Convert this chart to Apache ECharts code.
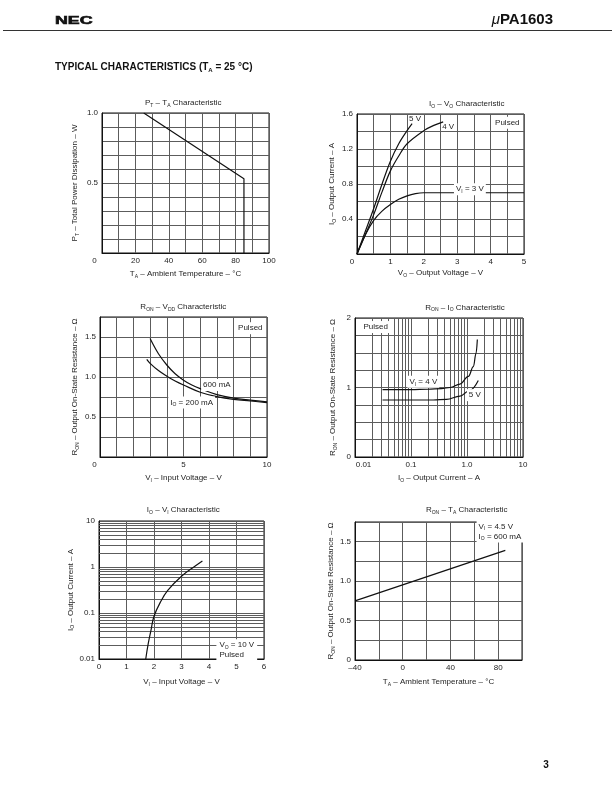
<!DOCTYPE html>
<html><head><meta charset="utf-8">
<script src="https://cdn.jsdelivr.net/npm/echarts@6/dist/echarts.min.js"></script>
<style>html,body{margin:0;padding:0;background:#fff}#c{width:612px;height:792px}</style>
</head><body><div id="c"></div><script>
// ---------------- DATA ----------------
// Chart 1: PT - TA
const c1TempC = [25, 85, 85];
const c1PowerW = [1.0, 0.53, 0];
const c1XTicks = [0, 20, 40, 60, 80, 100];
const c1YTicks = [0.5, 1.0];
// Chart 2: IO - VO
const c2Vo5 = [0, 0.25, 0.5, 0.75, 1.0, 1.25, 1.5, 1.65];
const c2Io5 = [0, 0.26, 0.52, 0.8, 1.06, 1.26, 1.41, 1.49];
const c2Vo4 = [0, 0.25, 0.5, 0.75, 1.0, 1.25, 1.5, 2.0, 2.3, 2.58];
const c2Io4 = [0, 0.22, 0.45, 0.71, 0.95, 1.12, 1.26, 1.41, 1.47, 1.51];
const c2Vo3 = [0, 0.25, 0.5, 0.75, 1.0, 1.25, 1.5, 1.75, 2.0, 2.5, 3, 4, 5];
const c2Io3 = [0, 0.22, 0.385, 0.49, 0.565, 0.625, 0.665, 0.69, 0.70, 0.70, 0.70, 0.70, 0.70];
const c2XTicks = [0, 1, 2, 3, 4, 5];
const c2YTicks = [0.4, 0.8, 1.2, 1.6];
// Chart 3: RON - VDD
const c3Vi600 = [3.0, 3.5, 4, 4.5, 5, 5.5, 6, 7, 8, 9, 10];
const c3Ron600 = [1.48, 1.29, 1.15, 1.04, 0.96, 0.9, 0.855, 0.78, 0.735, 0.71, 0.69];
const c3Vi200 = [2.8, 3.0, 3.5, 4, 4.5, 5, 6, 7, 8, 9, 10];
const c3Ron200 = [1.22, 1.17, 1.08, 1.01, 0.95, 0.9, 0.81, 0.755, 0.72, 0.70, 0.68];
const c3XTicks = [0, 5, 10];
const c3YTicks = [0.5, 1.0, 1.5];
// Chart 4: RON - IO (log x)
const c4Io4 = [0.031, 0.1, 0.2, 0.35, 0.5, 0.75, 1.06, 1.3, 1.45, 1.53];
const c4Ron4 = [0.97, 0.97, 0.975, 0.985, 1.0, 1.05, 1.16, 1.3, 1.49, 1.69];
const c4Io5 = [0.031, 0.1, 0.25, 0.43, 0.75, 1.13, 1.59];
const c4Ron5 = [0.82, 0.82, 0.82, 0.83, 0.877, 0.96, 1.10];
const c4XTicks = [0.01, 0.1, 1, 10];
const c4XTickText = ['0.01', '0.1', '1.0', '10'];
const c4YTicks = [0, 1, 2];
// Chart 5: IO - VI (log y)
const c5Vi = [1.70, 1.79, 1.89, 2.0, 2.25, 2.5, 3.0, 3.5, 3.76];
const c5Io = [0.01, 0.0215, 0.042, 0.085, 0.18, 0.31, 0.63, 1.05, 1.35];
const c5XTicks = [0, 1, 2, 3, 4, 5, 6];
const c5YTicks = [0.01, 0.1, 1, 10];
const c5YTickText = ['0.01', '0.1', '1', '10'];
// Chart 6: RON - TA
const c6TempC = [-40, 86];
const c6Ron = [0.75, 1.39];
const c6XTicks = [-40, 0, 40, 80];
const c6YTicks = [0, 0.5, 1.0, 1.5];
// log-paper minor grid values
const logMinor = [0.02,0.03,0.04,0.05,0.06,0.07,0.08,0.09,0.2,0.3,0.4,0.5,0.6,0.7,0.8,0.9,2,3,4,5,6,7,8,9];

// ---------------- STYLE ----------------
const FONT = '"Liberation Sans", Arial, sans-serif';
const TXT = '#1e1e1e';
const GRIDC = '#5c5c5c';
const LINEC = '#111';
const RICH = {
  n: {fontFamily: FONT, fontSize: 8, color: TXT, lineHeight: 10},
  s: {fontFamily: FONT, fontSize: 5, color: TXT, lineHeight: 6, verticalAlign: 'bottom'},
};
const n = t => `{n|${t}}`;
const sb = (a, b) => `{n|${a}}{s|${b}}`;
const zip = (a, b) => a.map((v, i) => [v, b[i]]);

function pick(list, fmt, isLog) {
  return v => {
    const i = list.findIndex(t => isLog ? Math.abs(Math.log10(t) - Math.log10(v)) < 1e-6 : Math.abs(t - v) < 1e-6);
    return i < 0 ? '' : fmt(list[i], i);
  };
}

function axis(o) {
  const rich = Object.assign({}, RICH, o.rich || {});
  return {
    gridIndex: o.g, type: o.type || 'value', min: o.min, max: o.max, interval: o.interval,
    logBase: o.type === 'log' ? 10 : undefined,
    axisLine: {show: true, onZero: false, lineStyle: {color: '#111', width: 1}},
    axisTick: {show: false},
    splitLine: {show: true, lineStyle: {color: GRIDC, width: 1}},
    minorTick: {show: false}, minorSplitLine: {show: false},
    axisLabel: {fontFamily: FONT, fontSize: 8, color: TXT, margin: o.margin || 4, formatter: o.fmt, rich: rich, showMinLabel: true, showMaxLabel: true},
    name: o.name, nameLocation: 'middle', nameGap: o.gap,
    nameTextStyle: {fontFamily: FONT, fontSize: 8, color: TXT, rich: RICH}
  };
}

const grids = [
  {left: 102, top: 113, width: 167, height: 140},
  {left: 357, top: 114, width: 167, height: 140},
  {left: 100, top: 317, width: 167, height: 140},
  {left: 355, top: 318, width: 168, height: 139},
  {left: 99, top: 521, width: 165, height: 138},
  {left: 355, top: 522, width: 167, height: 138},
].map(g => Object.assign(g, {show: true, borderColor: '#111', borderWidth: 1, containLabel: false}));

const RON_NAME = sb('R', 'ON') + n(' – Output On-State Resistance – Ω');
const IO_NAME = sb('I', 'O') + n(' – Output Current – A');

const xAxes = [
  axis({g: 0, min: 0, max: 100, interval: 10, gap: 16, margin: 4,
        fmt: pick(c1XTicks, t => t === 0 ? '{z|0}' : String(t)), rich: {z: {padding: [0, 15, 0, 0]}},
        name: sb('T', 'A') + n(' – Ambient Temperature – °C')}),
  axis({g: 1, min: 0, max: 5, interval: 0.5, gap: 14, margin: 4,
        fmt: pick(c2XTicks, t => t === 0 ? '{z|0}' : String(t)), rich: {z: {padding: [0, 10, 0, 0]}},
        name: sb('V', 'O') + n(' – Output Voltage – V')}),
  axis({g: 2, min: 0, max: 10, interval: 1, gap: 16, margin: 4,
        fmt: pick(c3XTicks, t => t === 0 ? '{z|0}' : String(t)), rich: {z: {padding: [0, 11, 0, 0]}},
        name: sb('V', 'I') + n(' – Input Voltage – V')}),
  axis({g: 3, type: 'log', min: 0.01, max: 10, gap: 16, margin: 4,
        fmt: pick(c4XTicks, (t, i) => i === 0 ? '{r|' + c4XTickText[i] + '}' : c4XTickText[i], true), rich: {r: {padding: [0, 0, 0, 17]}},
        name: IO_NAME}),
  axis({g: 4, min: 0, max: 6, interval: 1, gap: 18, margin: 4,
        fmt: pick(c5XTicks, t => String(t)),
        name: sb('V', 'I') + n(' – Input Voltage – V')}),
  axis({g: 5, min: -40, max: 100, interval: 20, gap: 17, margin: 4,
        fmt: pick(c6XTicks, t => t < 0 ? '–' + Math.abs(t) : String(t)),
        name: sb('T', 'A') + n(' – Ambient Temperature – °C')}),
];
const yAxes = [
  axis({g: 0, min: 0, max: 1, interval: 0.1, gap: 22, fmt: pick(c1YTicks, t => t.toFixed(1)),
        name: sb('P', 'T') + n(' – Total Power Dissipation – W')}),
  axis({g: 1, min: 0, max: 1.6, interval: 0.2, gap: 20, fmt: pick(c2YTicks, t => t.toFixed(1)), name: IO_NAME}),
  axis({g: 2, min: 0, max: 1.75, interval: 0.25, gap: 20, fmt: pick(c3YTicks, t => t.toFixed(1)), name: RON_NAME}),
  axis({g: 3, min: 0, max: 2, interval: 0.25, gap: 17, fmt: pick(c4YTicks, t => String(t)), name: RON_NAME}),
  axis({g: 4, type: 'log', min: 0.01, max: 10, gap: 21, fmt: pick(c5YTicks, (t, i) => c5YTickText[i], true), name: IO_NAME}),
  axis({g: 5, min: 0, max: 1.75, interval: 0.25, gap: 17, fmt: pick(c6YTicks, t => t === 0 ? '0' : t.toFixed(1)), name: RON_NAME}),
];

function curve(idx, data, extra) {
  return Object.assign({
    type: 'line', xAxisIndex: idx, yAxisIndex: idx, data: data,
    showSymbol: false, symbol: 'none', animation: false, silent: true, z: 3,
    lineStyle: {color: LINEC, width: 1.2}
  }, extra || {});
}
const noteLabel = (txt, extra) => Object.assign({
  show: true, formatter: txt, position: 'inside', backgroundColor: '#fff', padding: [1, 2],
  fontFamily: FONT, fontSize: 8, color: TXT, rich: RICH
}, extra || {});
function notes(list) {
  return {
    symbol: 'rect', symbolSize: 1, itemStyle: {color: 'rgba(0,0,0,0)'}, silent: true, animation: false, z: 10,
    data: list.map(o => ({coord: o.c, label: noteLabel(o.t, o.l)}))
  };
}
function logLines(dir) {
  return {
    symbol: 'none', silent: true, animation: false, z: 1,
    label: {show: false},
    lineStyle: {color: GRIDC, width: 1, type: 'solid'},
    data: logMinor.map(v => ({[dir]: v}))
  };
}

const series = [
  curve(0, zip(c1TempC, c1PowerW)),
  curve(1, zip(c2Vo5, c2Io5), {smooth: 0.35, markPoint: notes([
    {c: [4.5, 1.5], t: n('Pulsed')},
    {c: [1.74, 1.54], t: n('5 V'), l: {backgroundColor: 'rgba(0,0,0,0)'}},
    {c: [2.73, 1.45], t: n('4 V'), l: {backgroundColor: 'rgba(0,0,0,0)'}},
    {c: [3.38, 0.74], t: sb('V', 'I') + n(' = 3 V')},
  ])}),
  curve(1, zip(c2Vo4, c2Io4), {smooth: 0.35}),
  curve(1, zip(c2Vo3, c2Io3), {smooth: 0.35}),
  curve(2, zip(c3Vi600, c3Ron600), {smooth: 0.4, markPoint: notes([
    {c: [9.0, 1.61], t: n('Pulsed')},
    {c: [7.0, 0.90], t: n('600 mA')},
    {c: [5.49, 0.68], t: sb('I', 'O') + n(' = 200 mA')},
  ])}),
  curve(2, zip(c3Vi200, c3Ron200), {smooth: 0.4}),
  curve(3, zip(c4Io4, c4Ron4), {smooth: 0.4, smoothMonotone: 'x', markLine: logLines('xAxis'), markPoint: notes([
    {c: [0.0234, 1.87], t: n('Pulsed')},
    {c: [0.166, 1.084], t: sb('V', 'I') + n(' = 4 V')},
    {c: [1.38, 0.89], t: n('5 V')},
  ])}),
  curve(3, zip(c4Io5, c4Ron5), {smooth: 0.4, smoothMonotone: 'x'}),
  curve(4, zip(c5Vi, c5Io), {smooth: 0.4, markLine: logLines('yAxis'), markPoint: notes([
    {c: [4.25, 0.0155], t: sb('V', 'O') + n(' = 10 V') + '\n' + n('Pulsed'), l: {position: 'right', distance: 0, align: 'left', padding: [1, 3]}},
  ])}),
  curve(5, zip(c6TempC, c6Ron), {markPoint: notes([
    {c: [61.5, 1.63], t: sb('V', 'I') + n(' = 4.5 V') + '\n' + sb('I', 'O') + n(' = 600 mA'), l: {position: 'right', distance: 0, align: 'left', padding: [1, 2]}},
  ])}),
];

const TR = {
  n: {fontFamily: FONT, fontSize: 8, fill: TXT, lineHeight: 10},
  s: {fontFamily: FONT, fontSize: 5, fill: TXT, lineHeight: 6, verticalAlign: 'bottom'}
};
function title(x, y, text) {
  return {type: 'text', x: x, y: y, silent: true,
    style: {text: text, rich: TR, align: 'center', verticalAlign: 'middle', fill: TXT, font: '8px ' + FONT}};
}
const graphic = [
  {type: 'line', shape: {x1: 3, y1: 30.5, x2: 612, y2: 30.5}, style: {stroke: '#333', lineWidth: 1.2}, silent: true},
  {type: 'text', x: 55, y: 20.5, scaleX: 1.55, silent: true,
    style: {text: 'NEC', font: 'bold 11.5px ' + FONT, fill: '#111', stroke: '#111', lineWidth: 0.6, align: 'left', verticalAlign: 'middle'}},
  {type: 'text', x: 553, y: 19.5, silent: true,
    style: {text: '{m|μ}{b|PA1603}', align: 'right', verticalAlign: 'middle',
      rich: {m: {font: 'italic 15px ' + FONT, fill: '#111'}, b: {font: 'bold 15px ' + FONT, fill: '#111'}}}},
  {type: 'text', x: 55, y: 67.5, silent: true,
    style: {text: '{b|TYPICAL CHARACTERISTICS (T}{s|A}{b| = 25 °C)}', align: 'left', verticalAlign: 'middle',
      rich: {b: {font: 'bold 10px ' + FONT, fill: '#111', lineHeight: 12}, s: {font: 'bold 6px ' + FONT, fill: '#111', lineHeight: 7, verticalAlign: 'bottom'}}}},
  {type: 'text', x: 546, y: 765, silent: true,
    style: {text: '3', font: 'bold 10px ' + FONT, fill: '#111', align: 'center', verticalAlign: 'middle'}},
  title(183.3, 102.7, sb('P', 'T') + n(' – ') + sb('T', 'A') + n(' Characteristic')),
  title(466.7, 104, sb('I', 'O') + n(' – ') + sb('V', 'O') + n(' Characteristic')),
  title(183.3, 306.7, sb('R', 'ON') + n(' – ') + sb('V', 'DD') + n(' Characteristic')),
  title(465, 307.3, sb('R', 'ON') + n(' – ') + sb('I', 'O') + n(' Characteristic')),
  title(183.3, 510, sb('I', 'O') + n(' – ') + sb('V', 'I') + n(' Characteristic')),
  title(466.7, 510, sb('R', 'ON') + n(' – ') + sb('T', 'A') + n(' Characteristic')),
];

const chart = echarts.init(document.getElementById('c'), null, {renderer: 'canvas'});
chart.setOption({
  animation: false,
  backgroundColor: '#fff',
  grid: grids,
  xAxis: xAxes,
  yAxis: yAxes,
  series: series,
  graphic: graphic
});
</script></body></html>
